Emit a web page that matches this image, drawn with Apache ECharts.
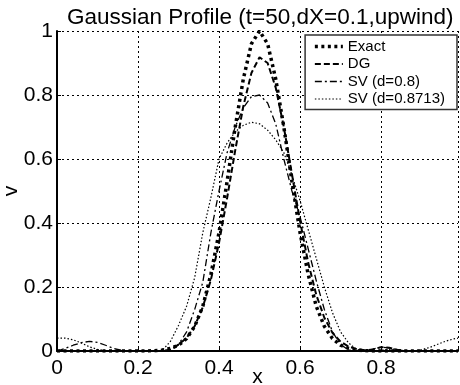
<!DOCTYPE html>
<html>
<head>
<meta charset="utf-8">
<script src="https://cdn.jsdelivr.net/npm/echarts@6/dist/echarts.min.js"></script>
<style>html,body{margin:0;padding:0;background:#fff;}#c{width:460px;height:385px;}</style>
</head>
<body>
<div id="c"></div>
<script>
var xs = [0,0.02,0.04,0.06,0.08,0.10,0.12,0.14,0.16,0.18,0.20,0.22,0.24,0.26,0.28,0.30,0.32,0.34,0.36,0.38,0.40,0.42,0.44,0.46,0.48,0.50,0.52,0.54,0.56,0.58,0.60,0.62,0.64,0.66,0.68,0.70,0.72,0.74,0.76,0.78,0.80,0.82,0.84,0.86,0.88,0.90,0.92,0.94,0.96,0.98,0.99];
var exact = [0,0,0,0,0,0,0,0,0,0,0,0,
  0.001,0.003,0.008,0.018,0.039,0.077,0.14,0.24,0.37,0.53,0.70,0.85,0.96,1.0,0.96,0.85,0.70,0.53,0.37,0.24,0.14,0.077,0.039,0.018,0.008,0.003,0.001,
  0,0,0,0,0,0,0,0,0,0,0,0];
var dg = [0,0,0,0,0,0,0,0,0,0,0,0,
  0,0,0.004,0.02,0.041,0.078,0.137,0.223,0.338,0.478,0.627,0.765,0.869,0.918,0.90,0.823,0.70,0.553,0.406,0.277,0.176,0.104,0.057,0.029,0.014,0.006,0.002,0.005,0.012,0.01,0.004,
  0,0,0,0,0,0,0,0];
var sv08 = [0,0.008,0.018,0.026,0.03,0.027,0.018,0.008,0.002,0,0,0,0,0,
  0.002,0.02,0.06,0.13,0.215,0.37,0.50,0.62,0.70,0.76,0.795,0.80,0.775,0.71,0.60,0.50,0.42,0.32,0.22,0.13,0.06,0.02,0.003,0,0,0.006,0.012,0.01,0.004,
  0,0,0,0,0,0,0,0];
var sv087 = [0.04,0.04,0.035,0.025,0.013,0.005,0.001,0,0,0,0,0,0,
  0.002,0.03,0.08,0.14,0.23,0.37,0.48,0.60,0.65,0.685,0.705,0.715,0.71,0.69,0.66,0.62,0.55,0.47,0.38,0.29,0.20,0.12,0.06,0.025,0.005,0,0,0.003,0.004,0.002,0,0,
  0.004,0.011,0.021,0.031,0.038,0.04];
var seriesNames = ['Exact','DG','SV (d=0.8)','SV (d=0.8713)'];
var xTicks = [0,0.2,0.4,0.6,0.8];

function pairs(v){ return xs.map(function(x,i){ return [x, v[i]]; }); }

var F = 'Liberation Sans, Arial, sans-serif';
var chart = echarts.init(document.getElementById('c'), null, {renderer:'canvas'});
chart.setOption({
  animation: false,
  backgroundColor: '#fff',
  color: ['#000','#000','#000','#000'],
  title: {
    text: 'Gaussian Profile (t=50,dX=0.1,upwind)',
    left: 62, top: 1,
    textStyle: {fontFamily: F, fontSize: 22.5, fontWeight: 'normal', color: '#000'}
  },
  legend: {
    orient: 'vertical', right: 3, top: 35,
    backgroundColor: '#fff', borderColor: '#333', borderWidth: 1.5,
    padding: [4, 12, 3, 8], itemGap: 2.5, itemWidth: 28, itemHeight: 13,
    textStyle: {fontFamily: F, fontSize: 15, color: '#000'},
    itemStyle: {opacity: 0},
    lineStyle: {width: 'inherit'},
    data: seriesNames
  },
  grid: {left: 57, right: 2, top: 31, bottom: 34, containLabel: false, outerBoundsMode: 'none'},
  xAxis: {
    type: 'value', min: 0, max: 0.99, interval: 0.2,
    name: 'x', nameLocation: 'middle', nameGap: 16, nameMoveOverlap: false,
    nameTextStyle: {fontFamily: F, fontSize: 21, color: '#000', verticalAlign: 'top'},
    axisLine: {lineStyle: {color: '#000', width: 2}},
    axisTick: {inside: true, length: 4, lineStyle: {color: '#000'}},
    axisLabel: {fontFamily: F, fontSize: 21, color: '#000', margin: 7,
      formatter: function(v){ return xTicks.some(function(t){return Math.abs(t-v)<1e-9;}) ? String(v) : ''; }},
    splitLine: {show: true, lineStyle: {color: '#000', type: [2,3], width: 1}}
  },
  yAxis: {
    type: 'value', min: 0, max: 1, interval: 0.2,
    name: 'v', nameLocation: 'middle', nameGap: 35, nameMoveOverlap: false,
    nameTextStyle: {fontFamily: F, fontSize: 21, color: '#000'},
    axisLine: {show: true, lineStyle: {color: '#000', width: 2}},
    axisTick: {show: true, inside: true, length: 4, lineStyle: {color: '#000'}},
    axisLabel: {fontFamily: F, fontSize: 21, color: '#000', margin: 4},
    splitLine: {show: true, lineStyle: {color: '#000', type: [2,3], width: 1}}
  },
  series: [
    {name: seriesNames[0], type: 'line', data: pairs(exact), symbol: 'none',
     itemStyle: {color: '#000'},
     lineStyle: {color: '#000', width: 3.5, type: [3,3.5], cap: 'butt'}},
    {name: seriesNames[1], type: 'line', data: pairs(dg), symbol: 'none',
     itemStyle: {color: '#000'},
     lineStyle: {color: '#000', width: 2, type: [6,3]}},
    {name: seriesNames[2], type: 'line', data: pairs(sv08), symbol: 'none',
     itemStyle: {color: '#000'},
     lineStyle: {color: '#000', width: 1.3, type: [7,3,2,3]}},
    {name: seriesNames[3], type: 'line', data: pairs(sv087), symbol: 'none',
     itemStyle: {color: '#000'},
     lineStyle: {color: '#000', width: 1.2, type: [1.5,2]}}
  ]
});
</script>
</body>
</html>
